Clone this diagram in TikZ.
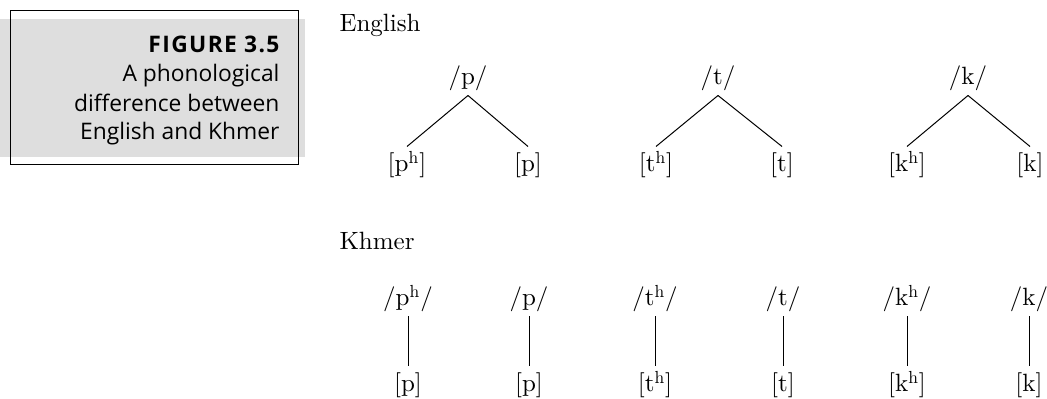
\documentclass[tikz,border=0pt]{standalone}
\usepackage{fontspec}
\newfontfamily\capfont{Open Sans}
\newfontfamily\txtfont{lmroman10-regular}[Extension=.otf]
\definecolor{capfill}{HTML}{DEDEDE}
\definecolor{capline}{HTML}{7A7A7A}
\tikzset{
	phoneme/.style = {anchor=base, inner sep=0pt, text depth=5pt},
	phone/.style = {anchor=base, inner sep=0pt, text height=12.5pt},
	lang/.style = {anchor=base west, inner sep=0pt},
	capline/.style = {anchor=base east, inner sep=0pt, font=\capfont\fontsize{11.4}{14}\selectfont}
}
\begin{document}
\begin{tikzpicture}[x=0.5pt,y=-0.5pt,line width=0.5pt,
	every node/.append style={font=\txtfont\fontsize{12.5}{15}\selectfont}]
\useasboundingbox (0,0) rectangle (1047,399);
%
	\fill[capfill] (0,19) rectangle (305,157);
	\draw[capline] (10,11) rectangle (298,165);
	\node[capline] (fig) at (280,53) {\bfseries\addfontfeatures{LetterSpace=6}FIGURE 3.5};
	\node[capline] (cap1) at (280,82) {A phonological};
	\node[capline] (cap2) at (280,112) {difference between};
	\node[capline] (cap3) at (280,140) {English and Khmer};
%
	\node[lang] (english) at (339,32) {English};
	\node[phoneme] (ep) at (468,85) {/p/};
	\node[phoneme] (et) at (718,85) {/t/};
	\node[phoneme] (ek) at (968,85) {/k/};
	\node[phone] (eph) at (407,172) {[p\textsuperscript{h}]};
	\node[phone] (epp) at (528,172) {[p]};
	\node[phone] (eth) at (656,172) {[t\textsuperscript{h}]};
	\node[phone] (ett) at (782,172) {[t]};
	\node[phone] (ekh) at (907,172) {[k\textsuperscript{h}]};
	\node[phone] (ekk) at (1030,172) {[k]};
	\draw (ep.south) -- (eph.north);
	\draw (ep.south) -- (epp.north);
	\draw (et.south) -- (eth.north);
	\draw (et.south) -- (ett.north);
	\draw (ek.south) -- (ekh.north);
	\draw (ek.south) -- (ekk.north);
%
	\node[lang] (khmer) at (339,250) {Khmer};
	\node[phoneme] (kph) at (408,306) {/p\textsuperscript{h}/};
	\node[phoneme] (kp) at (529,306) {/p/};
	\node[phoneme] (kth) at (655,306) {/t\textsuperscript{h}/};
	\node[phoneme] (kt) at (783,306) {/t/};
	\node[phoneme] (kkh) at (907,306) {/k\textsuperscript{h}/};
	\node[phoneme] (kk) at (1029,306) {/k/};
	\node[phone] (kph') at (408,392) {[p]};
	\node[phone] (kp') at (529,392) {[p]};
	\node[phone] (kth') at (655,392) {[t\textsuperscript{h}]};
	\node[phone] (kt') at (783,392) {[t]};
	\node[phone] (kkh') at (907,392) {[k\textsuperscript{h}]};
	\node[phone] (kk') at (1029,392) {[k]};
	\draw (kph.south) -- (kph'.north);
	\draw (kp.south) -- (kp'.north);
	\draw (kth.south) -- (kth'.north);
	\draw (kt.south) -- (kt'.north);
	\draw (kkh.south) -- (kkh'.north);
	\draw (kk.south) -- (kk'.north);
%
\end{tikzpicture}
\end{document}
